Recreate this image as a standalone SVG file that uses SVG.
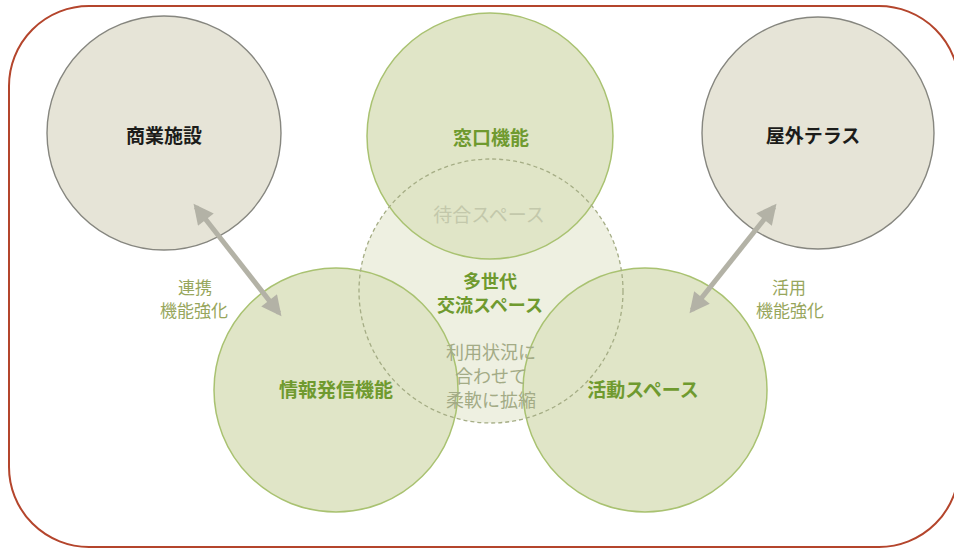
<svg xmlns="http://www.w3.org/2000/svg" width="954" height="549" viewBox="0 0 954 549">
<defs>
<style>
.t{font-family:"Noto Sans CJK JP","Noto Sans CJK SC",sans-serif;text-anchor:middle;dominant-baseline:central}
.b{font-weight:700;font-size:19px}
.c{font-weight:700;font-size:18px}
.dark{fill:#1c1c1a}
.grn{fill:#6f9a2f}
.soft{fill:#a3ab86;font-size:18px;font-weight:400}
.faint{fill:#c3c8ab;font-size:19px;font-weight:400}
.lbl{fill:#97a65c;font-size:17px;font-weight:400}
.gc{fill:#e6e4d7;stroke:#86867f;stroke-width:1.4}
.lc{fill:#e0e5c7}
.ls{fill:none;stroke:#a9c271;stroke-width:1.5}
.arr{stroke:#b3b2a6;stroke-width:5;fill:none}
</style>
<marker id="ah" viewBox="0 0 10 10" refX="8" refY="5" markerWidth="4.4" markerHeight="4" orient="auto-start-reverse" markerUnits="strokeWidth">
<path d="M0,0 L10,5 L0,10 Z" fill="#b3b2a6"/>
</marker>
</defs>
<rect x="9" y="6" width="950" height="541" rx="80" ry="80" fill="#ffffff" stroke="#b4452c" stroke-width="2"/>

<g id="shougyou">
<circle class="gc" cx="164" cy="133" r="117"/>
<text class="t b dark" x="164" y="134">商業施設</text>
</g>
<g id="terrace">
<circle class="gc" cx="818" cy="133" r="116"/>
<text class="t b dark" x="813" y="134">屋外テラス</text>
</g>

<g id="koryu">
<circle cx="491" cy="291" r="132" fill="#eef0e1"/>
</g>
<g id="madoguchi">
<circle class="lc" cx="490" cy="136" r="123"/>
</g>
<g id="jouhou">
<circle class="lc" cx="336" cy="390" r="122"/>
</g>
<g id="katsudou">
<circle class="lc" cx="645" cy="390" r="122"/>
</g>
<g id="outlines">
<circle class="ls" cx="490" cy="136" r="123"/>
<circle class="ls" cx="336" cy="390" r="122"/>
<circle class="ls" cx="645" cy="390" r="122"/>
<circle cx="491" cy="291" r="132" fill="none" stroke="#a5ad85" stroke-width="1.3" stroke-dasharray="4,3"/>
</g>
<g id="labels">
<text class="t b grn" x="491" y="136">窓口機能</text>
<text class="t faint" x="489" y="213">待合スペース</text>
<text class="t c grn" x="490" y="280">多世代</text>
<text class="t c grn" x="490" y="304">交流スペース</text>
<text class="t soft" x="491" y="351">利用状況に</text>
<text class="t soft" x="491" y="375">合わせて</text>
<text class="t soft" x="491" y="399">柔軟に拡縮</text>
<text class="t b grn" x="336" y="388">情報発信機能</text>
<text class="t b grn" x="643" y="388">活動スペース</text>
</g>

<g id="connectors">
<line class="arr" x1="196" y1="207" x2="279" y2="313" marker-start="url(#ah)" marker-end="url(#ah)"/>
<line class="arr" x1="774" y1="207" x2="692" y2="310" marker-start="url(#ah)" marker-end="url(#ah)"/>
<text class="t lbl" x="195" y="286">連携</text>
<text class="t lbl" x="194" y="309">機能強化</text>
<text class="t lbl" x="789" y="286">活用</text>
<text class="t lbl" x="790" y="309">機能強化</text>
</g>
</svg>
